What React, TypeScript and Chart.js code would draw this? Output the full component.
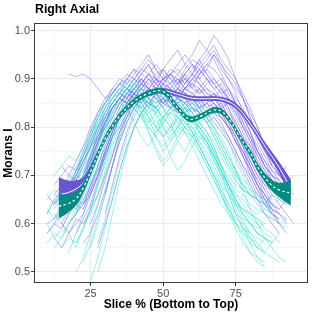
import React, { useEffect, useRef } from "react";
import { Chart, registerables } from "chart.js";

Chart.register(...registerables);

// ---------- text ----------
const TITLE = "Right Axial";
const X_TITLE = "Slice % (Bottom to Top)";
const Y_TITLE = "Morans I";

// ---------- axes ----------
const X_MIN = 5.5;
const X_MAX = 99.9;
const Y_MIN = 0.477;
const Y_MAX = 1.016;
const X_MAJOR = [25, 50, 75];
const X_MINOR = [12.5, 37.5, 62.5, 87.5];
const Y_MAJOR = [0.5, 0.6, 0.7, 0.8, 0.9, 1.0];
const Y_MINOR = [0.55, 0.65, 0.75, 0.85, 0.95];

// ---------- individual scans (slice % sampled every 2.5) ----------
const SLICE_STEP = 2.5;

const purpleStarts = [12.5, 15, 17.5, 10, 20, 15, 22.5, 12.5, 17.5, 25, 10, 20, 15, 27.5, 22.5, 12.5, 30, 17.5,
  10, 15, 20, 12.5, 25, 17.5, 10, 22.5, 15, 20, 30, 12.5];
const purpleLines = [
  [0.64,0.66,0.65,0.69,0.71,0.74,0.78,0.81,0.84,0.86,0.85,0.88,0.89,0.87,0.88,0.90,0.89,0.87,0.88,0.90,0.89,0.87,0.86,0.88,0.85,0.83,0.80,0.78,0.74,0.71,0.68],
  [0.66,0.68,0.70,0.69,0.73,0.77,0.80,0.82,0.85,0.87,0.86,0.88,0.90,0.88,0.86,0.87,0.89,0.91,0.88,0.87,0.89,0.90,0.88,0.86,0.84,0.81,0.78,0.75,0.72,0.70,0.68,0.66],
  [0.91,0.905,0.91,0.90,0.88,0.86,0.87,0.89,0.90,0.92,0.91,0.93,0.90,0.89,0.91,0.92,0.90,0.88,0.91,0.93,0.95,0.92,0.90,0.88,0.86,0.82,0.78,0.75,0.72],
  [0.58,0.60,0.59,0.62,0.64,0.63,0.67,0.70,0.74,0.78,0.80,0.83,0.85,0.84,0.86,0.88,0.87,0.85,0.86,0.88,0.87,0.85,0.86,0.87,0.84,0.82,0.80,0.77,0.73,0.70,0.67,0.64,0.62],
  [0.62,0.64,0.68,0.72,0.76,0.80,0.83,0.86,0.88,0.90,0.89,0.91,0.92,0.90,0.89,0.91,0.93,0.92,0.94,0.96,0.93,0.91,0.89,0.86,0.83,0.80,0.76,0.73,0.70,0.68,0.66],
  [0.60,0.58,0.61,0.60,0.63,0.66,0.70,0.74,0.79,0.82,0.85,0.86,0.84,0.87,0.88,0.86,0.85,0.87,0.86,0.84,0.85,0.87,0.86,0.83,0.81,0.78,0.74,0.71,0.68,0.65],
  [0.56,0.58,0.62,0.67,0.72,0.77,0.81,0.84,0.86,0.88,0.87,0.85,0.86,0.88,0.87,0.86,0.88,0.90,0.89,0.87,0.88,0.86,0.84,0.81,0.77,0.74,0.71,0.69,0.67],
  [0.68,0.70,0.72,0.71,0.75,0.79,0.83,0.86,0.88,0.87,0.90,0.92,0.89,0.88,0.90,0.89,0.87,0.86,0.85,0.86,0.84,0.85,0.83,0.82,0.80,0.77,0.75,0.72,0.69,0.67],
  [0.63,0.65,0.64,0.68,0.71,0.75,0.79,0.82,0.84,0.87,0.89,0.88,0.86,0.85,0.87,0.88,0.86,0.84,0.83,0.85,0.84,0.82,0.80,0.77,0.74,0.70,0.67,0.64,0.62,0.61],
  [0.60,0.64,0.69,0.74,0.79,0.83,0.85,0.87,0.89,0.88,0.90,0.91,0.89,0.92,0.94,0.93,0.95,0.97,0.94,0.92,0.90,0.87,0.84,0.80,0.76,0.72,0.70,0.68],
  [0.62,0.65,0.67,0.66,0.70,0.73,0.76,0.78,0.82,0.84,0.86,0.85,0.87,0.86,0.88,0.87,0.85,0.84,0.86,0.85,0.83,0.84,0.86,0.85,0.83,0.80,0.79,0.76,0.72,0.69,0.66,0.63,0.60],
  [0.70,0.73,0.76,0.80,0.82,0.85,0.87,0.86,0.89,0.90,0.88,0.87,0.89,0.91,0.90,0.88,0.89,0.91,0.93,0.92,0.90,0.88,0.85,0.82,0.79,0.75,0.72,0.69,0.66],
  [0.72,0.70,0.73,0.76,0.80,0.83,0.85,0.88,0.90,0.89,0.91,0.93,0.95,0.92,0.90,0.91,0.89,0.90,0.92,0.94,0.91,0.89,0.90,0.87,0.85,0.82,0.79,0.76,0.73,0.70,0.68],
  [0.55,0.60,0.65,0.71,0.76,0.80,0.83,0.85,0.84,0.86,0.85,0.83,0.84,0.86,0.85,0.83,0.84,0.82,0.80,0.78,0.75,0.72,0.68,0.65,0.62,0.60,0.58],
  [0.64,0.66,0.70,0.75,0.79,0.84,0.87,0.89,0.91,0.93,0.90,0.92,0.94,0.96,0.93,0.95,0.98,0.96,0.99,0.97,0.94,0.90,0.86,0.82,0.78,0.75,0.72,0.70,0.69],
  [0.57,0.55,0.58,0.60,0.62,0.66,0.70,0.75,0.79,0.82,0.84,0.86,0.85,0.87,0.86,0.84,0.86,0.85,0.83,0.84,0.82,0.83,0.81,0.79,0.77,0.74,0.71,0.68,0.65,0.62,0.60,0.58],
  [0.66,0.72,0.78,0.82,0.86,0.88,0.90,0.89,0.92,0.90,0.88,0.91,0.93,0.90,0.92,0.95,0.93,0.90,0.87,0.83,0.79,0.75,0.72,0.70,0.69,0.67],
  [0.60,0.62,0.66,0.70,0.74,0.78,0.82,0.85,0.87,0.86,0.88,0.87,0.89,0.88,0.86,0.88,0.90,0.89,0.87,0.88,0.86,0.84,0.85,0.82,0.79,0.76,0.72,0.69,0.66,0.64,0.62,0.60],
  [0.66,0.64,0.67,0.70,0.69,0.72,0.76,0.80,0.83,0.85,0.87,0.86,0.88,0.90,0.88,0.87,0.89,0.88,0.86,0.87,0.89,0.88,0.86,0.84,0.85,0.82,0.79,0.76,0.74,0.71,0.69,0.67],
  [0.62,0.65,0.63,0.67,0.72,0.76,0.81,0.84,0.86,0.88,0.87,0.89,0.91,0.89,0.90,0.88,0.86,0.88,0.90,0.92,0.90,0.88,0.89,0.86,0.84,0.80,0.77,0.73,0.70,0.67,0.65,0.64],
  [0.58,0.61,0.64,0.69,0.74,0.78,0.82,0.84,0.87,0.85,0.88,0.87,0.85,0.86,0.88,0.87,0.85,0.86,0.84,0.85,0.83,0.81,0.78,0.75,0.71,0.68,0.65,0.63,0.62,0.61],
  [0.62,0.60,0.63,0.66,0.70,0.74,0.79,0.83,0.86,0.88,0.90,0.89,0.91,0.90,0.88,0.90,0.92,0.91,0.89,0.91,0.93,0.91,0.89,0.87,0.84,0.81,0.78,0.76,0.73,0.71,0.69],
  [0.66,0.70,0.74,0.78,0.82,0.85,0.87,0.86,0.88,0.90,0.88,0.86,0.87,0.89,0.91,0.89,0.87,0.86,0.84,0.81,0.78,0.74,0.71,0.68,0.66,0.64,0.63,0.65],
  [0.68,0.71,0.74,0.77,0.80,0.84,0.87,0.89,0.91,0.90,0.92,0.94,0.92,0.90,0.91,0.93,0.95,0.93,0.91,0.92,0.90,0.88,0.86,0.83,0.80,0.77,0.74,0.72,0.70,0.69],
  [0.60,0.61,0.63,0.62,0.66,0.69,0.73,0.77,0.81,0.84,0.86,0.85,0.84,0.86,0.85,0.87,0.86,0.84,0.85,0.86,0.84,0.83,0.81,0.82,0.80,0.78,0.75,0.72,0.70,0.67,0.65,0.63,0.62,0.60],
  [0.70,0.74,0.78,0.81,0.84,0.86,0.88,0.87,0.89,0.91,0.90,0.88,0.89,0.91,0.93,0.91,0.94,0.96,0.94,0.91,0.88,0.85,0.81,0.78,0.75,0.73,0.71,0.70,0.72],
  [0.64,0.67,0.66,0.70,0.73,0.77,0.80,0.84,0.86,0.85,0.87,0.88,0.86,0.85,0.86,0.84,0.83,0.85,0.86,0.84,0.82,0.83,0.81,0.78,0.75,0.72,0.69,0.66,0.64,0.62],
  [0.66,0.68,0.72,0.77,0.81,0.84,0.86,0.88,0.90,0.89,0.91,0.89,0.87,0.88,0.90,0.89,0.91,0.90,0.88,0.87,0.85,0.82,0.79,0.76,0.73,0.70,0.68,0.67,0.66,0.68,0.67],
  [0.62,0.68,0.74,0.79,0.83,0.86,0.88,0.87,0.89,0.88,0.86,0.88,0.90,0.92,0.90,0.88,0.86,0.84,0.80,0.77,0.74,0.71,0.69,0.68,0.66],
  [0.66,0.68,0.67,0.71,0.74,0.78,0.82,0.85,0.87,0.89,0.88,0.90,0.92,0.91,0.93,0.91,0.89,0.90,0.88,0.87,0.88,0.86,0.85,0.83,0.80,0.77,0.74,0.71,0.68,0.66,0.64,0.63],
];

const turquoiseStarts = [10, 12.5, 10, 15, 17.5, 20, 10, 22.5, 12.5, 15, 25, 10, 17.5, 20, 12.5, 27.5, 15, 22.5,
  10, 15, 20, 12.5, 17.5, 25, 10, 22.5, 15, 12.5, 27.5, 20];
const turquoiseLines = [
  [0.56,0.58,0.57,0.60,0.63,0.67,0.71,0.76,0.80,0.83,0.85,0.86,0.84,0.82,0.80,0.78,0.81,0.83,0.82,0.80,0.78,0.79,0.77,0.74,0.70,0.66,0.62,0.59,0.57,0.56],
  [0.60,0.62,0.64,0.63,0.67,0.71,0.75,0.79,0.83,0.86,0.87,0.88,0.86,0.83,0.81,0.82,0.84,0.85,0.83,0.81,0.80,0.78,0.75,0.71,0.68,0.65,0.63,0.61,0.60],
  [0.62,0.65,0.63,0.66,0.68,0.70,0.74,0.78,0.82,0.85,0.87,0.88,0.89,0.87,0.84,0.80,0.78,0.80,0.83,0.84,0.82,0.79,0.77,0.74,0.71,0.68,0.65,0.63,0.62,0.60,0.58,0.57],
  [0.55,0.57,0.56,0.59,0.63,0.68,0.73,0.78,0.82,0.84,0.86,0.85,0.82,0.78,0.75,0.77,0.80,0.82,0.80,0.77,0.74,0.71,0.68,0.64,0.60,0.57,0.54,0.52,0.51],
  [0.66,0.69,0.72,0.76,0.80,0.83,0.86,0.88,0.87,0.89,0.88,0.86,0.84,0.83,0.85,0.86,0.84,0.83,0.85,0.83,0.80,0.77,0.74,0.71,0.68,0.66,0.65,0.64,0.63],
  [0.50,0.53,0.58,0.64,0.70,0.75,0.79,0.82,0.84,0.86,0.85,0.83,0.80,0.77,0.79,0.81,0.80,0.78,0.76,0.74,0.71,0.67,0.63,0.60,0.57,0.55,0.54],
  [0.58,0.60,0.63,0.65,0.69,0.73,0.77,0.81,0.84,0.86,0.88,0.87,0.86,0.84,0.82,0.80,0.82,0.84,0.86,0.85,0.83,0.80,0.78,0.75,0.72,0.69,0.67,0.66,0.64,0.63,0.62,0.61,0.60,0.61],
  [0.60,0.62,0.66,0.71,0.76,0.80,0.83,0.85,0.87,0.86,0.84,0.81,0.79,0.82,0.84,0.83,0.81,0.79,0.76,0.72,0.69,0.66,0.64,0.62,0.61,0.59,0.58,0.56],
  [0.70,0.72,0.74,0.73,0.76,0.79,0.82,0.85,0.87,0.89,0.88,0.90,0.88,0.86,0.85,0.87,0.88,0.86,0.84,0.85,0.83,0.81,0.78,0.75,0.72,0.70,0.68,0.67,0.66,0.65],
  [0.62,0.64,0.66,0.69,0.72,0.76,0.80,0.84,0.86,0.88,0.86,0.83,0.79,0.75,0.72,0.74,0.77,0.79,0.78,0.76,0.73,0.70,0.67,0.63,0.60,0.58,0.56,0.55,0.57,0.56],
  [0.48,0.53,0.59,0.65,0.71,0.76,0.80,0.83,0.85,0.84,0.86,0.85,0.83,0.85,0.87,0.86,0.84,0.82,0.80,0.77,0.73,0.70,0.67,0.65,0.63,0.62,0.61],
  [0.65,0.67,0.66,0.69,0.72,0.75,0.78,0.81,0.84,0.86,0.85,0.87,0.88,0.86,0.84,0.83,0.85,0.87,0.86,0.84,0.82,0.80,0.77,0.73,0.70,0.67,0.64,0.62,0.60,0.58,0.57],
  [0.58,0.55,0.59,0.63,0.68,0.72,0.77,0.81,0.84,0.86,0.87,0.85,0.82,0.78,0.74,0.71,0.73,0.76,0.78,0.77,0.74,0.71,0.68,0.64,0.61,0.58,0.56,0.54,0.53,0.52],
  [0.67,0.70,0.73,0.77,0.81,0.84,0.86,0.88,0.89,0.87,0.85,0.84,0.86,0.88,0.89,0.87,0.85,0.83,0.81,0.79,0.76,0.73,0.71,0.69,0.68,0.66,0.65,0.64,0.65],
  [0.55,0.57,0.60,0.62,0.65,0.68,0.72,0.77,0.81,0.84,0.86,0.85,0.83,0.80,0.78,0.76,0.78,0.80,0.79,0.77,0.75,0.72,0.69,0.66,0.63,0.60,0.58,0.57,0.55,0.54,0.56],
  [0.56,0.61,0.67,0.73,0.78,0.82,0.85,0.87,0.86,0.84,0.82,0.80,0.83,0.85,0.84,0.82,0.79,0.76,0.73,0.70,0.68,0.66,0.65,0.64,0.66,0.65,0.64],
  [0.68,0.66,0.69,0.72,0.74,0.78,0.82,0.85,0.87,0.89,0.90,0.88,0.86,0.84,0.82,0.84,0.86,0.85,0.83,0.81,0.79,0.77,0.74,0.71,0.69,0.67,0.66,0.65],
  [0.52,0.56,0.61,0.66,0.72,0.77,0.81,0.84,0.86,0.88,0.87,0.84,0.81,0.77,0.75,0.78,0.81,0.82,0.80,0.78,0.75,0.71,0.67,0.63,0.60,0.57,0.55,0.53,0.52],
  [0.60,0.57,0.59,0.62,0.66,0.70,0.75,0.79,0.82,0.84,0.85,0.84,0.81,0.78,0.76,0.79,0.82,0.83,0.81,0.79,0.76,0.73,0.70,0.67,0.64,0.62,0.60,0.59,0.58],
  [0.64,0.67,0.70,0.74,0.78,0.82,0.85,0.87,0.86,0.88,0.86,0.84,0.81,0.79,0.81,0.83,0.84,0.82,0.79,0.76,0.73,0.70,0.67,0.64,0.62,0.61,0.60,0.59,0.60],
  [0.56,0.59,0.63,0.68,0.73,0.78,0.82,0.85,0.87,0.88,0.86,0.83,0.80,0.78,0.80,0.82,0.81,0.79,0.77,0.74,0.71,0.68,0.65,0.62,0.60,0.58,0.57,0.56,0.58],
  [0.66,0.65,0.68,0.71,0.74,0.77,0.81,0.84,0.86,0.87,0.86,0.84,0.82,0.84,0.86,0.87,0.85,0.83,0.84,0.82,0.79,0.76,0.73,0.70,0.68,0.66,0.65,0.63,0.62,0.63],
  [0.54,0.58,0.62,0.67,0.72,0.76,0.80,0.83,0.85,0.84,0.82,0.79,0.76,0.73,0.75,0.78,0.80,0.79,0.77,0.75,0.72,0.69,0.66,0.62,0.59,0.56,0.53,0.51],
  [0.55,0.60,0.66,0.72,0.77,0.81,0.84,0.86,0.85,0.87,0.86,0.84,0.82,0.83,0.85,0.84,0.82,0.80,0.77,0.74,0.71,0.68,0.66,0.64,0.62,0.61,0.60,0.59],
  [0.63,0.61,0.64,0.67,0.70,0.74,0.78,0.82,0.85,0.87,0.89,0.88,0.86,0.83,0.81,0.83,0.85,0.84,0.82,0.80,0.78,0.75,0.72,0.69,0.66,0.63,0.61,0.60,0.58,0.57,0.56],
  [0.64,0.67,0.71,0.75,0.79,0.83,0.85,0.87,0.88,0.86,0.84,0.82,0.80,0.81,0.83,0.82,0.80,0.78,0.75,0.72,0.70,0.68,0.67,0.66,0.65,0.64,0.63],
  [0.58,0.60,0.62,0.65,0.69,0.74,0.79,0.83,0.86,0.88,0.87,0.85,0.82,0.80,0.78,0.80,0.82,0.81,0.79,0.76,0.73,0.70,0.66,0.62,0.59,0.56,0.54,0.53,0.52],
  [0.63,0.66,0.68,0.67,0.70,0.73,0.77,0.81,0.84,0.86,0.88,0.87,0.85,0.83,0.84,0.86,0.85,0.83,0.81,0.79,0.76,0.73,0.70,0.68,0.66,0.64,0.63,0.62,0.61,0.60],
  [0.50,0.55,0.62,0.69,0.75,0.80,0.83,0.85,0.84,0.82,0.80,0.78,0.80,0.82,0.81,0.79,0.76,0.72,0.68,0.65,0.62,0.60,0.58,0.57,0.56],
  [0.70,0.73,0.76,0.79,0.82,0.85,0.87,0.89,0.88,0.86,0.85,0.87,0.88,0.86,0.84,0.82,0.84,0.83,0.81,0.78,0.75,0.72,0.69,0.67,0.66,0.65,0.64,0.66],
];

// ---------- smoothed group means with confidence bands ----------
const purpleFitX = [14,17,20,22.5,25,27.5,30,32.5,35,40,45,50,55,60,65,70,75,80,85,90,94];
const purpleFit  = [0.660,0.664,0.672,0.685,0.712,0.745,0.777,0.803,0.824,0.854,0.871,0.876,0.868,0.860,0.859,0.858,0.844,0.808,0.761,0.716,0.672];
const purpleHi   = [0.697,0.690,0.690,0.697,0.721,0.752,0.783,0.808,0.829,0.859,0.876,0.881,0.873,0.865,0.864,0.863,0.850,0.815,0.770,0.728,0.692];
const purpleLo   = [0.623,0.638,0.654,0.673,0.703,0.738,0.771,0.798,0.819,0.849,0.866,0.871,0.863,0.855,0.854,0.853,0.838,0.801,0.752,0.704,0.652];

const tealFitX = [14,17,20,22.5,25,27.5,30,32.5,35,40,45,50,55,59,63,67,70,73,76,80,83,87,90,94];
const tealFit  = [0.636,0.641,0.652,0.675,0.708,0.743,0.776,0.802,0.823,0.853,0.870,0.874,0.840,0.817,0.823,0.835,0.833,0.814,0.784,0.747,0.713,0.682,0.670,0.663];
const tealHi   = [0.662,0.660,0.666,0.686,0.716,0.750,0.782,0.808,0.829,0.859,0.876,0.880,0.846,0.823,0.829,0.841,0.839,0.820,0.790,0.754,0.721,0.693,0.685,0.689];
const tealLo   = [0.610,0.622,0.638,0.664,0.700,0.736,0.770,0.796,0.817,0.847,0.864,0.868,0.834,0.811,0.817,0.829,0.827,0.808,0.778,0.740,0.705,0.671,0.655,0.637];

// ---------- styles ----------
const FONT = '"Liberation Sans", Arial, Helvetica, sans-serif';
const PURPLE_LINE = "rgba(123,104,238,0.5)";
const TURQ_LINE = "rgba(64,224,208,0.5)";
const PURPLE_BAND = "#6A55D2";
const TEAL_BAND = "#008B80";

const pts = (xs: number[], ys: number[]) => ys.map((y, i) => ({ x: xs[i], y }));
const linePts = (start: number, ys: number[]) => ys.map((y, i) => ({ x: start + i * SLICE_STEP, y }));

const near = (a: number, list: number[]) => list.some((v) => Math.abs(v - a) < 1e-6);

export default function App() {
  const ref = useRef<HTMLCanvasElement | null>(null);

  useEffect(() => {
    if (!ref.current) return;

    const datasets: any[] = [];
    const base = { pointRadius: 0, pointHoverRadius: 0, fill: false, tension: 0 };

    datasets.push({ ...base, data: pts(tealFitX, tealFit), borderColor: "#FFFFFF", borderWidth: 1.2, borderDash: [2.5, 2.5], tension: 0.4, order: 0 });
    datasets.push({ ...base, data: pts(tealFitX, tealLo), borderWidth: 0, borderColor: "rgba(0,0,0,0)", tension: 0.4, order: 1 });
    datasets.push({ ...base, data: pts(tealFitX, tealHi), borderWidth: 0, borderColor: "rgba(0,0,0,0)", backgroundColor: TEAL_BAND, fill: "-1", tension: 0.4, order: 1 });
    datasets.push({ ...base, data: pts(purpleFitX, purpleFit), borderColor: "#FFFFFF", borderWidth: 1, tension: 0.4, order: 2 });
    datasets.push({ ...base, data: pts(purpleFitX, purpleLo), borderWidth: 0, borderColor: "rgba(0,0,0,0)", tension: 0.4, order: 3 });
    datasets.push({ ...base, data: pts(purpleFitX, purpleHi), borderWidth: 0, borderColor: "rgba(0,0,0,0)", backgroundColor: PURPLE_BAND, fill: "-1", tension: 0.4, order: 3 });

    const n = Math.max(purpleLines.length, turquoiseLines.length);
    for (let i = 0; i < n; i++) {
      if (purpleLines[i]) datasets.push({ ...base, data: linePts(purpleStarts[i], purpleLines[i]), borderColor: PURPLE_LINE, borderWidth: 1, order: 10 + 2 * i });
      if (turquoiseLines[i]) datasets.push({ ...base, data: linePts(turquoiseStarts[i], turquoiseLines[i]), borderColor: TURQ_LINE, borderWidth: 1, order: 11 + 2 * i });
    }

    const frame = {
      id: "frame",
      afterDraw(chart: any) {
        const { ctx, chartArea: a } = chart;
        ctx.save();
        ctx.strokeStyle = "#3A3A3A";
        ctx.lineWidth = 1;
        ctx.strokeRect(a.left + 0.5, a.top + 0.5, a.right - a.left - 1, a.bottom - a.top - 1);
        ctx.fillStyle = "#000000";
        ctx.font = `bold 12.3px ${FONT}`;
        ctx.textBaseline = "alphabetic";
        ctx.textAlign = "left";
        ctx.fillText(TITLE, a.left + 1, 13);
        ctx.restore();
      },
    };

    const chart = new Chart(ref.current, {
      type: "line",
      data: { datasets },
      plugins: [frame],
      options: {
        animation: false,
        responsive: false,
        events: [],
        layout: { padding: { top: 23, right: 4, bottom: 0, left: 0 } },
        plugins: { legend: { display: false }, tooltip: { enabled: false }, title: { display: false } },
        scales: {
          x: {
            type: "linear",
            min: X_MIN,
            max: X_MAX,
            afterBuildTicks: (s: any) => {
              s.ticks = [...X_MINOR, ...X_MAJOR].sort((a, b) => a - b).map((v) => ({ value: v }));
            },
            afterFit: (s: any) => { s.height = 29; },
            ticks: {
              autoSkip: false,
              maxRotation: 0,
              padding: 1,
              color: "#4D4D4D",
              font: { family: FONT, size: 11 },
              callback: (v: any) => (near(Number(v), X_MAJOR) ? String(v) : ""),
            },
            grid: {
              color: (c: any) => (c.tick && near(c.tick.value, X_MAJOR) ? "#EBEBEB" : "#F2F2F2"),
              lineWidth: (c: any) => (c.tick && near(c.tick.value, X_MAJOR) ? 1 : 0.6),
              tickColor: (c: any) => (c.tick && near(c.tick.value, X_MAJOR) ? "#3A3A3A" : "rgba(0,0,0,0)"),
              tickLength: 3,
              tickWidth: 1,
            },
            border: { display: false },
            title: { display: true, text: X_TITLE, color: "#000000", font: { family: FONT, size: 12, weight: "bold" }, padding: { top: 0, bottom: 0 } },
          },
          y: {
            type: "linear",
            min: Y_MIN,
            max: Y_MAX,
            afterBuildTicks: (s: any) => {
              s.ticks = [...Y_MINOR, ...Y_MAJOR].sort((a, b) => a - b).map((v) => ({ value: v }));
            },
            afterFit: (s: any) => { s.width = 34; },
            ticks: {
              autoSkip: false,
              padding: 1,
              color: "#4D4D4D",
              font: { family: FONT, size: 11 },
              callback: (v: any) => (near(Number(v), Y_MAJOR) ? Number(v).toFixed(1) : ""),
            },
            grid: {
              color: (c: any) => (c.tick && near(c.tick.value, Y_MAJOR) ? "#EBEBEB" : "#F2F2F2"),
              lineWidth: (c: any) => (c.tick && near(c.tick.value, Y_MAJOR) ? 1 : 0.6),
              tickColor: (c: any) => (c.tick && near(c.tick.value, Y_MAJOR) ? "#3A3A3A" : "rgba(0,0,0,0)"),
              tickLength: 3,
              tickWidth: 1,
            },
            border: { display: false },
            title: { display: true, text: Y_TITLE, color: "#000000", font: { family: FONT, size: 12, weight: "bold" }, padding: { top: 1.5, bottom: 0 } },
          },
        },
      },
    });

    return () => chart.destroy();
  }, []);

  return (
    <div style={{ position: "absolute", left: 0, top: 0, width: 312, height: 312, background: "#FFFFFF" }}>
      <canvas ref={ref} width={312} height={312} style={{ display: "block" }} />
    </div>
  );
}
